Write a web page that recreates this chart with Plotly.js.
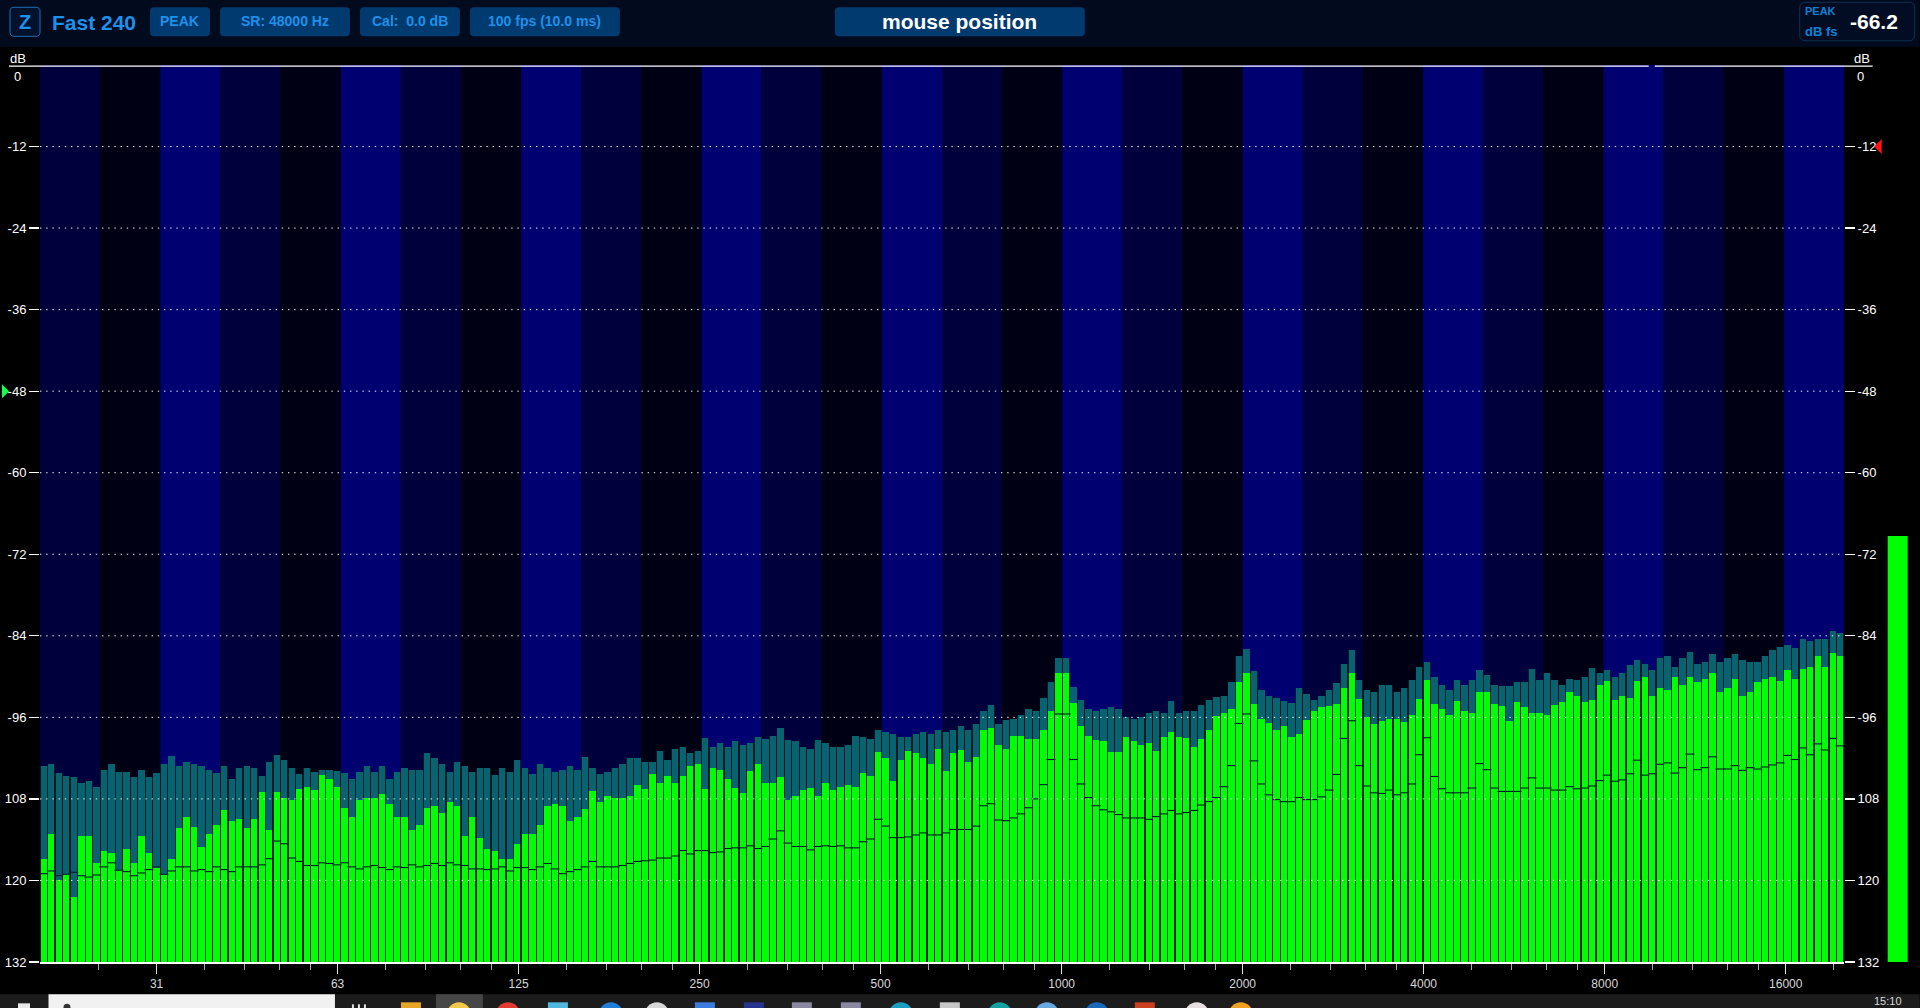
<!DOCTYPE html>
<html><head><meta charset="utf-8">
<script src="https://cdn.plot.ly/plotly-3.0.1.min.js"></script>
<style>html,body{margin:0;padding:0;background:#000;overflow:hidden}#c{width:1920px;height:1008px}</style>
</head><body><div id="c"></div>
<script>
// spectrum readings in dB FS, one per band (240 bands, 20 Hz – 20 kHz)
const peakHold = [
-103.1,-102.9,-104.2,-104.7,-104.8,-105.7,-105.3,-106.3,-103.7,-102.8,-104.1,-104.1,-104.8,-103.7,-104.8,-104.2,-102.9,-101.7,-103.2,-102.6,-102.8,-103.1,-103.8,-104.2,-103.2,-105.1,-103.5,-103.1,-103.4,-104.7,-102.6,-101.6,-102.3,-103.4,-104.4,-103.5,-104.0,-103.7,
-103.7,-103.9,-104.2,-105.0,-104.0,-103.2,-104.0,-103.2,-105.0,-104.1,-103.4,-103.8,-103.8,-101.3,-102.0,-102.8,-104.0,-102.5,-103.2,-104.0,-103.5,-103.4,-104.5,-103.5,-104.0,-102.2,-103.4,-104.4,-102.8,-103.4,-104.0,-103.7,-103.1,-103.7,-101.9,-103.4,-104.4,-104.1,-103.5,-102.9,-102.0,-102.0,
-102.5,-102.6,-100.9,-102.2,-100.7,-100.4,-101.2,-101.0,-99.1,-100.4,-99.7,-100.4,-99.5,-100.1,-99.7,-98.9,-99.2,-98.8,-97.6,-99.4,-99.5,-100.3,-100.6,-99.4,-99.8,-100.3,-100.3,-100.1,-98.8,-98.9,-99.2,-97.8,-98.1,-98.4,-98.9,-98.9,-98.4,-98.1,-98.4,-97.8,-98.1,-97.9,-97.3,
-97.8,-97.0,-95.1,-94.2,-97.0,-96.4,-96.3,-95.6,-94.8,-95.0,-93.2,-90.8,-87.2,-87.2,-91.6,-93.5,-94.8,-95.0,-94.8,-94.5,-94.8,-96.0,-96.3,-96.0,-95.4,-95.1,-95.3,-93.6,-95.4,-95.0,-95.1,-94.2,-93.5,-93.0,-92.8,-90.8,-87.0,-86.0,-89.2,-91.9,-92.8,-93.2,
-93.6,-93.9,-91.7,-92.6,-93.5,-92.9,-92.0,-91.0,-88.2,-86.1,-90.5,-91.9,-92.2,-91.3,-91.3,-92.3,-91.7,-90.5,-88.6,-87.9,-90.1,-91.3,-91.9,-90.5,-91.3,-90.5,-89.1,-89.7,-91.3,-91.4,-91.4,-90.8,-90.8,-88.9,-90.5,-89.5,-90.5,-91.3,-90.4,-90.5,-90.1,-88.8,-89.5,
-89.1,-90.1,-89.4,-88.3,-87.6,-88.1,-89.1,-87.3,-86.9,-88.6,-87.3,-86.4,-88.1,-87.9,-86.7,-87.9,-87.3,-86.7,-87.5,-87.9,-87.8,-87.0,-86.1,-85.7,-85.3,-85.8,-84.5,-84.8,-84.4,-84.5,-83.3,-83.6];
const liveLevel = [
-116.8,-113.2,-120.0,-119.1,-122.5,-113.5,-113.5,-117.4,-115.7,-115.9,-118.5,-115.4,-117.4,-113.5,-116.0,-118.1,-119.1,-116.9,-112.3,-110.7,-112.1,-115.1,-113.1,-111.8,-109.7,-111.3,-110.9,-112.3,-111.0,-107.0,-112.6,-107.0,-107.9,-108.1,-106.6,-106.3,-106.7,-104.5,
-105.0,-106.2,-109.3,-110.6,-108.2,-107.8,-107.9,-107.3,-108.7,-110.7,-110.6,-112.6,-111.9,-109.3,-109.1,-110.1,-108.4,-109.0,-113.4,-110.7,-113.7,-115.3,-115.7,-116.8,-116.9,-114.6,-113.2,-113.1,-111.8,-109.1,-108.7,-109.1,-111.2,-110.7,-109.5,-106.9,-108.4,-107.6,-107.9,-107.9,-107.6,-106.0,
-106.6,-104.4,-105.7,-104.7,-105.6,-104.7,-103.1,-102.9,-106.6,-103.5,-103.8,-105.0,-106.4,-107.2,-103.9,-102.9,-105.7,-105.6,-104.8,-108.1,-107.6,-106.7,-106.4,-107.6,-105.6,-106.7,-106.3,-105.9,-106.3,-104.2,-104.7,-101.1,-102.0,-105.3,-102.2,-101.0,-101.3,-102.0,-102.8,-100.6,-103.9,-101.3,-100.8,
-102.5,-101.9,-97.8,-97.6,-100.0,-100.7,-98.8,-98.8,-99.2,-99.2,-97.8,-95.0,-89.5,-89.5,-93.9,-97.2,-98.8,-99.4,-99.5,-101.1,-101.1,-98.9,-99.5,-100.1,-99.7,-101.0,-98.9,-98.2,-98.9,-99.1,-100.3,-99.2,-97.8,-95.8,-95.4,-94.7,-90.8,-89.4,-94.1,-96.3,-96.9,-97.9,
-97.2,-98.9,-98.4,-96.4,-95.1,-94.5,-94.4,-94.1,-91.7,-89.4,-93.3,-96.0,-97.0,-96.6,-96.3,-96.3,-96.7,-95.7,-93.3,-90.5,-94.1,-94.7,-95.7,-93.6,-95.0,-95.4,-92.2,-92.2,-94.1,-94.4,-96.6,-93.8,-94.5,-95.4,-95.4,-95.6,-94.2,-93.8,-92.3,-92.9,-93.8,-93.5,-91.3,
-90.6,-93.4,-92.8,-93.1,-90.7,-90.1,-92.8,-91.7,-91.9,-90.1,-91.3,-90.0,-90.8,-90.4,-89.4,-92.2,-91.7,-90.3,-92.9,-92.3,-90.8,-90.3,-90.0,-90.6,-89.1,-90.4,-88.9,-88.6,-87.0,-88.6,-86.6,-86.9];
const averageLevel = [
-119.0,-118.6,-119.3,-119.1,-118.8,-119.3,-119.5,-119.2,-118.0,-117.4,-118.5,-118.7,-119.3,-118.9,-118.4,-118.0,-119.1,-118.6,-118.0,-118.0,-118.6,-118.4,-118.7,-118.0,-118.4,-118.7,-118.0,-118.0,-118.0,-117.7,-116.8,-114.2,-114.6,-116.7,-117.2,-117.8,-117.8,-117.4,
-117.5,-117.7,-117.4,-118.0,-118.3,-118.0,-117.8,-118.1,-118.4,-118.0,-118.1,-117.7,-118.0,-117.8,-117.5,-117.8,-117.4,-117.7,-117.8,-118.3,-118.3,-118.4,-118.3,-118.0,-118.6,-118.1,-118.1,-118.4,-118.0,-117.5,-118.3,-119.0,-118.7,-118.4,-118.0,-117.2,-118.0,-118.0,-118.0,-117.8,-117.5,-117.2,
-117.1,-117.0,-116.7,-116.7,-116.4,-115.6,-116.1,-115.6,-115.6,-115.9,-115.8,-115.3,-115.2,-115.2,-114.9,-115.3,-115.0,-113.9,-112.7,-114.5,-115.0,-115.0,-115.5,-115.0,-114.9,-115.0,-114.9,-115.2,-115.2,-114.3,-113.9,-111.0,-112.0,-113.7,-113.7,-113.6,-113.3,-113.0,-113.3,-113.3,-113.0,-112.5,-112.5,
-112.5,-112.0,-109.0,-108.7,-111.1,-111.2,-110.8,-110.2,-109.3,-108.0,-105.9,-102.2,-95.5,-95.5,-102.2,-105.8,-107.8,-109.0,-109.6,-109.9,-110.3,-110.8,-110.8,-110.8,-111.0,-110.6,-110.2,-109.7,-110.2,-110.0,-109.7,-108.9,-108.4,-107.8,-106.2,-103.1,-96.9,-95.5,-102.4,-105.8,-107.4,-108.1,
-108.4,-108.4,-107.8,-108.1,-108.1,-107.7,-106.7,-104.4,-99.1,-96.5,-103.1,-106.1,-107.1,-107.2,-106.7,-107.4,-107.1,-105.8,-101.5,-99.0,-104.7,-106.5,-107.1,-107.1,-107.1,-106.4,-102.8,-103.7,-106.4,-106.9,-106.9,-106.9,-106.4,-104.9,-106.4,-106.4,-106.7,-106.7,-106.2,-106.5,-106.4,-106.1,-105.3,
-104.5,-105.4,-105.2,-104.3,-102.3,-104.5,-104.3,-102.9,-102.7,-104.2,-103.4,-101.4,-103.7,-103.4,-101.8,-103.6,-103.6,-103.1,-103.8,-103.4,-103.6,-103.3,-103.0,-102.7,-101.6,-102.2,-100.5,-101.5,-99.9,-100.8,-99.1,-100.2];

const dbTicks = [-12,-24,-36,-48,-60,-72,-84,-96,-108,-120,-132];
const dbLabels = ['-12','-24','-36','-48','-60','-72','-84','-96','108','120','132'];
const topLabel = '0';
const freqTicks = [31.25,62.5,125,250,500,1000,2000,4000,8000,16000];
const freqLabels = ['31','63','125','250','500','1000','2000','4000','8000','16000'];
const minorFreqs = [25,37.5,43.75,50,56.25,75,87.5,100,112.5,150,175,200,225,300,350,400,450,600,700,800,900,1200,1400,1600,1800,2400,2800,3200,3600,4800,5600,6400,7200,9600,11200,12800,14400,19200];
const meterLevel = -69.3;
const clipMark = -12, refMark = -48;

const BANDS = peakHold.length, STRIPE = 8;
const L = 40, R = 1844.3, T = 65.2, B = 961.7;
const px = x => (x - L) / (R - L), py = y => (B - y) / (B - T);
const band = f => BANDS * Math.log(f / 20) / Math.log(1000);
const xs = peakHold.map((_, i) => i + 0.5);
const heights = a => a.map(v => v + 132);
const rr = (x0, y0, x1, y1, r, fill, line) => ({
  type: 'path', xref: 'paper', yref: 'paper', layer: 'below',
  path: `M${px(x0+r)},${py(y0)}L${px(x1-r)},${py(y0)}Q${px(x1)},${py(y0)} ${px(x1)},${py(y0+r)}L${px(x1)},${py(y1-r)}Q${px(x1)},${py(y1)} ${px(x1-r)},${py(y1)}L${px(x0+r)},${py(y1)}Q${px(x0)},${py(y1)} ${px(x0)},${py(y1-r)}L${px(x0)},${py(y0+r)}Q${px(x0)},${py(y0)} ${px(x0+r)},${py(y0)}Z`,
  fillcolor: fill, line: line ? {color: line, width: 1} : {width: 0}
});
const box = (x0, y0, x1, y1, fill, layer) => ({type: 'rect', xref: 'paper', yref: 'paper', layer: layer || 'below',
  x0: px(x0), x1: px(x1), y0: py(y1), y1: py(y0), fillcolor: fill, line: {width: 0}});
const circ = (cx, cy, r, fill) => ({type: 'circle', xref: 'paper', yref: 'paper', layer: 'above',
  x0: px(cx-r), x1: px(cx+r), y0: py(cy+r), y1: py(cy-r), fillcolor: fill, line: {width: 0}});
const tri = (pts, fill) => ({type: 'path', xref: 'paper', yref: 'paper', layer: 'above',
  path: 'M' + pts.map(p => px(p[0]) + ',' + py(p[1])).join('L') + 'Z', fillcolor: fill, line: {width: 0}});
const txt = (x, y, text, size, color, bold, anchor) => ({xref: 'paper', yref: 'paper', x: px(x), y: py(y), text: bold ? `<b>${text}</b>` : text,
  showarrow: false, xanchor: anchor || 'center', yanchor: 'middle', font: {family: 'Liberation Sans, Arial', size, color}});

const shapes = [];
// header
shapes.push(box(0, 0, 1920, 47, '#020b1e'));
// octave stripes
const stripeColors = ['#00003c', '#000014', '#000070'];
for (let i = 0; i < BANDS / STRIPE; i++) {
  shapes.push({type: 'rect', xref: 'x', yref: 'paper', layer: 'below', x0: i * STRIPE, x1: (i + 1) * STRIPE, y0: 0, y1: 1,
    fillcolor: stripeColors[i % 3], line: {width: 0}});
}
// dotted level lines above the bars
dbTicks.slice(0, -1).forEach(d => shapes.push({type: 'line', xref: 'x', yref: 'y', layer: 'above', x0: 0, x1: BANDS, y0: d, y1: d,
  line: {color: 'rgba(255,255,255,0.95)', width: 1, dash: '1.4px,4.8px'}}));
// top rule (with its gap) and bottom rule
shapes.push({type: 'line', xref: 'paper', yref: 'paper', layer: 'above', x0: px(9), x1: px(1649), y0: py(66.3), y1: py(66.3), line: {color: '#fff', width: 1.4}});
shapes.push({type: 'line', xref: 'paper', yref: 'paper', layer: 'above', x0: px(1655), x1: px(1873), y0: py(66.3), y1: py(66.3), line: {color: '#fff', width: 1.4}});
// pills
shapes.push(rr(10, 7.5, 40, 36.5, 4, '#01132c', '#1f6fb5'));
shapes.push(rr(150, 7.5, 210, 36.5, 4, '#013a6e'));
shapes.push(rr(220, 7.5, 350, 36.5, 4, '#013a6e'));
shapes.push(rr(360, 7.5, 460, 36.5, 4, '#013a6e'));
shapes.push(rr(470, 7.5, 620, 36.5, 4, '#013a6e'));
shapes.push(rr(835, 7.5, 1085, 36.5, 4, '#013a6e'));
shapes.push(rr(1800, 2.5, 1915, 41, 6, '#020d24', '#12304f'));
// level meter, driven by its reading
shapes.push({type: 'rect', xref: 'paper', yref: 'y', layer: 'above', x0: px(1888), x1: px(1908), y0: -132, y1: meterLevel, fillcolor: '#00ff00', line: {width: 0}});
// marks at the scale edges
const yMark = d => T + (-d / 132) * (B - T);
shapes.push(tri([[1874.5, yMark(clipMark)], [1882, yMark(clipMark) - 7.5], [1882, yMark(clipMark) + 7.5]], '#ff1414'));
shapes.push(tri([[9, yMark(refMark)], [2, yMark(refMark) - 7], [2, yMark(refMark) + 7]], '#14ff50'));
// taskbar
shapes.push(box(0, 994, 1920, 1008, '#1c1c1c', 'above'));
shapes.push(box(48.5, 994, 335, 1008, '#f1f1f1', 'above'));
shapes.push(box(436, 994, 483, 1008, '#464646', 'above'));
shapes.push(box(18, 1003, 30, 1008, '#e8e8e8', 'above'));
shapes.push(circ(67, 1007, 3.5, '#333'));
shapes.push(box(352, 1004, 354, 1008, '#e0e0e0', 'above'));
shapes.push(box(358, 1004, 360, 1008, '#e0e0e0', 'above'));
shapes.push(box(364, 1004, 366, 1008, '#e0e0e0', 'above'));
[[411, '#e8a626'], [558, '#4fb8dc'], [705, '#3a7be0'], [754, '#27348f'], [802, '#8a88a0'], [851, '#8a88a0'], [950, '#c8c8c8'], [1145, '#c8401e']]
  .forEach(c => shapes.push(box(c[0] - 10, 1002, c[0] + 10, 1008, c[1], 'above')));
[[459, '#f2c84b'], [508, '#e03c32'], [611, '#1f7fd6'], [657, '#d8d8d8'], [901, '#1b9fc0'], [1000, '#14a0a0'], [1047, '#6aa8e0'], [1097, '#1668b8'], [1197, '#e8e0e0'], [1241, '#f0a020']]
  .forEach(c => shapes.push(circ(c[0], 1014, 12, c[1])));

const annotations = [
  txt(25, 22, 'Z', 20, '#1e90ea', true),
  txt(50, 22.5, 'Fast 240', 21, '#1e90ea', true, 'left'),
  txt(180, 21.5, 'PEAK', 14, '#1e90ea', true),
  txt(285, 21.5, 'SR: 48000 Hz', 14, '#1e90ea', true),
  txt(410, 21.5, 'Cal:  0.0 dB', 14, '#1e90ea', true),
  txt(545, 21.5, '100 fps (10.0 ms)', 14, '#1e90ea', true),
  txt(960, 22, 'mouse position', 21, '#ffffff', true),
  txt(1803, 11, 'PEAK', 11, '#1080d0', true, 'left'),
  txt(1803, 32, 'dB fs', 13, '#1080d0', true, 'left'),
  txt(1874, 22, '-66.2', 21, '#ffffff', true),
  txt(18, 58.5, 'dB', 13, '#ffffff'),
  txt(1862, 58.5, 'dB', 13, '#ffffff'),
  txt(17, 76.5, topLabel, 13, '#ffffff'),
  txt(1861, 76.5, topLabel, 13, '#ffffff'),
  txt(1888, 1001, '15:10', 11, '#d8d8d8')
];

const traces = [
  {type: 'bar', x: xs, y: heights(peakHold), base: -132, width: 1, marker: {color: '#001a22', line: {width: 0}}, hoverinfo: 'skip'},
  {type: 'bar', x: xs, y: heights(peakHold), base: -132, width: 0.84, marker: {color: '#08626f', line: {width: 0}}, hoverinfo: 'skip'},
  {type: 'bar', x: xs, y: heights(liveLevel), base: -132, width: 0.84, marker: {color: '#00ff00', line: {width: 0}}, hoverinfo: 'skip'},
  {type: 'scatter', mode: 'markers', x: xs, y: averageLevel, yaxis: 'y2', hoverinfo: 'skip',
   marker: {symbol: 'line-ew', size: 6.3, color: '#02202a', line: {color: '#02202a', width: 1.1}}}
];

const yAxis = {range: [-132, 0], tickvals: dbTicks, ticktext: dbLabels, ticks: 'outside', ticklen: 10, tickcolor: '#fff', tickwidth: 1.2,
  tickfont: {family: 'Liberation Sans, Arial', size: 13, color: '#fff'}, showgrid: false, zeroline: false, showline: false, fixedrange: true};
const layout = {
  width: 1920, height: 1008, paper_bgcolor: '#000', plot_bgcolor: '#000', showlegend: false, barmode: 'overlay', bargap: 0,
  margin: {l: L, r: 1920 - R, t: T, b: 1008 - B, pad: 0},
  xaxis: {range: [0, BANDS], tickvals: freqTicks.map(band), ticktext: freqLabels, ticks: 'outside', ticklen: 10, tickcolor: '#ddd', tickwidth: 1,
    tickfont: {family: 'Liberation Sans, Arial', size: 12, color: '#d8d8d8'}, showgrid: false, zeroline: false,
    showline: true, linecolor: '#fff', linewidth: 1.5, fixedrange: true,
    minor: {tickvals: minorFreqs.map(band), ticks: 'outside', ticklen: 6, tickcolor: '#aaa', tickwidth: 1, showgrid: false}},
  yaxis: yAxis,
  yaxis2: Object.assign({}, yAxis, {overlaying: 'y', side: 'right'}),
  shapes, annotations
};
Plotly.newPlot('c', traces, layout, {displayModeBar: false, staticPlot: true});
</script></body></html>
